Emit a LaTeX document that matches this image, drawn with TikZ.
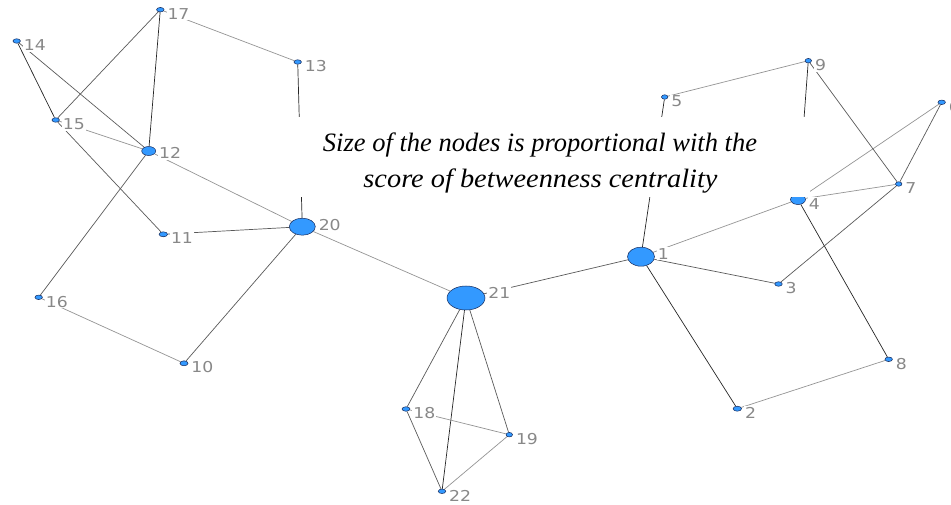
\documentclass[tikz,border=0pt]{standalone}
\usepackage{fontspec}
\setmainfont{Liberation Serif}
\newfontfamily\labfont[FakeStretch=1.15]{DejaVu Sans}
\usetikzlibrary{shapes.geometric}
\pgfdeclarelayer{bg}
\pgfsetlayers{bg,main}
\definecolor{nodeblue}{RGB}{51,153,255}
\definecolor{nodeline}{RGB}{20,40,90}
\definecolor{labgray}{RGB}{136,136,136}
\begin{document}
\begin{tikzpicture}[x=1pt,y=-1pt,
 nd/.style={ellipse,draw=nodeline,fill=nodeblue,inner sep=0pt,line width=0.5pt},
 sm/.style={nd,minimum width=7.5pt,minimum height=4.5pt},
 lab/.style={anchor=north west,inner sep=1pt,fill=white,text=labgray,font=\labfont\fontsize{15}{15}\selectfont,xshift=2pt},
 ek/.style={draw=black!85,line width=0.7pt},
 ed/.style={draw=black!65,line width=0.7pt},
 eg/.style={draw=black!42,line width=0.7pt},
 capbox/.style={fill=white,inner sep=0pt,minimum width=532pt,minimum height=80.5pt},
 captext/.style={anchor=base,inner sep=0pt,font=\itshape\fontsize{26.5}{30}\selectfont}
]
\useasboundingbox (0,0) rectangle (951,505);
\clip (0,0) rectangle (951,505);

% nodes
\node[sm] (n17) at (160.3,9.7) {};
\node[sm] (n14) at (16.7,41) {};
\node[sm] (n13) at (297.7,62) {};
\node[sm] (n15) at (55.7,120) {};
\node[nd,minimum width=14pt,minimum height=9pt] (n12) at (148.7,151) {};
\node[sm,minimum width=8.5pt,minimum height=5pt] (n11) at (163.3,234.3) {};
\node[nd,minimum width=26pt,minimum height=17pt] (n20) at (302.3,226.7) {};
\node[sm] (n16) at (38.7,297.3) {};
\node[sm,minimum width=8pt,minimum height=5pt] (n10) at (184,363.3) {};
\node[nd,minimum width=38pt,minimum height=24pt] (n21) at (466,298) {};
\node[sm,minimum width=8pt] (n18) at (406,409) {};
\node[sm,minimum width=6.5pt] (n19) at (509.3,434.7) {};
\node[sm] (n22) at (442,491.3) {};
\node[nd,minimum width=27pt,minimum height=19pt] (n1) at (641,256.7) {};
\node[sm] (n3) at (778.5,284) {};
\node[sm,minimum width=8.5pt,minimum height=5pt] (n2) at (737.3,408.7) {};
\node[sm] (n8) at (888.7,359.3) {};
\node[nd,minimum width=15pt,minimum height=10pt] (n4) at (798,199.5) {};
\node[sm,minimum width=6.5pt] (n7) at (898.7,184) {};
\node[sm] (n6) at (941.7,102.3) {};
\node[sm,minimum width=6.5pt] (n9) at (808.3,60.7) {};
\node[sm,minimum width=6.5pt] (n5) at (664.7,97) {};

% labels
\node[lab] (l17) at (n17.north -| n17.east) {17};
\node[lab] (l14) at (n14.north -| n14.east) {14};
\node[lab] (l13) at (n13.north -| n13.east) {13};
\node[lab] (l15) at (n15.north -| n15.east) {15};
\node[lab] (l12) at (n12.north -| n12.east) {12};
\node[lab] (l11) at (n11.north -| n11.east) {11};
\node[lab] (l20) at (n20.north -| n20.east) {20};
\node[lab] (l16) at (n16.north -| n16.east) {16};
\node[lab] (l10) at (n10.north -| n10.east) {10};
\node[lab] (l21) at (n21.north -| n21.east) {21};
\node[lab] (l18) at (n18.north -| n18.east) {18};
\node[lab] (l19) at (n19.north -| n19.east) {19};
\node[lab] (l22) at (n22.north -| n22.east) {22};
\node[lab] (l1) at (n1.north -| n1.east) {1};
\node[lab] (l3) at (n3.north -| n3.east) {3};
\node[lab] (l2) at (n2.north -| n2.east) {2};
\node[lab] (l8) at (n8.north -| n8.east) {8};
\node[lab,yshift=-3pt] (l4) at (n4.north -| n4.east) {4};
\node[lab] (l7) at (n7.north -| n7.east) {7};
\node[lab] (l6) at (n6.north -| n6.east) {6};
\node[lab] (l9) at (n9.north -| n9.east) {9};
\node[lab] (l5) at (n5.north -| n5.east) {5};

% edges
\begin{pgfonlayer}{bg}
\draw[eg] (n17) -- (n13);
\draw[ed] (n17) -- (n15);
\draw[ek] (n17) -- (n12);
\draw[ek] (n14) -- (n15);
\draw[ed] (n14) -- (n12);
\draw[eg] (n15) -- (n12);
\draw[ed] (n15) -- (n11);
\draw[eg] (n12) -- (n20);
\draw[ed] (n12) -- (n16);
\draw[ek] (n13) -- (n20);
\draw[ed] (n11) -- (n20);
\draw[ed] (n20) -- (n10);
\draw[eg] (n16) -- (n10);
\draw[eg] (n20) -- (n21);
\draw[ed] (n21) -- (n18);
\draw[ek] (n21) -- (n22);
\draw[ed] (n21) -- (n19);
\draw[eg] (n18) -- (n19);
\draw[ed] (n18) -- (n22);
\draw[eg] (n22) -- (n19);
\draw[ed] (n21) -- (n1);
\draw[ek] (n1) -- (n5);
\draw[eg] (n1) -- (n4);
\draw[ed] (n1) -- (n3);
\draw[ek] (n1) -- (n2);
\draw[eg] (n2) -- (n8);
\draw[ek] (n4) -- (n8);
\draw[eg] (n4) -- (n7);
\draw[eg] (n4) -- (n6);
\draw[ed] (n6) -- (n7);
\draw[eg] (n9) -- (n5);
\draw[ed] (n9) -- (n7);
\draw[ek] (n9) -- (n4);
\draw[ed] (n3) -- (n7);
\end{pgfonlayer}

% caption
\node[capbox] (capbg) at (544,157.25) {};
\node[captext] (cap1) at (540,151.7) {Size of the nodes is proportional with the};
\node[captext,xscale=1.07] (cap2) at (540.5,188) {score of betweenness centrality};
\end{tikzpicture}
\end{document}
